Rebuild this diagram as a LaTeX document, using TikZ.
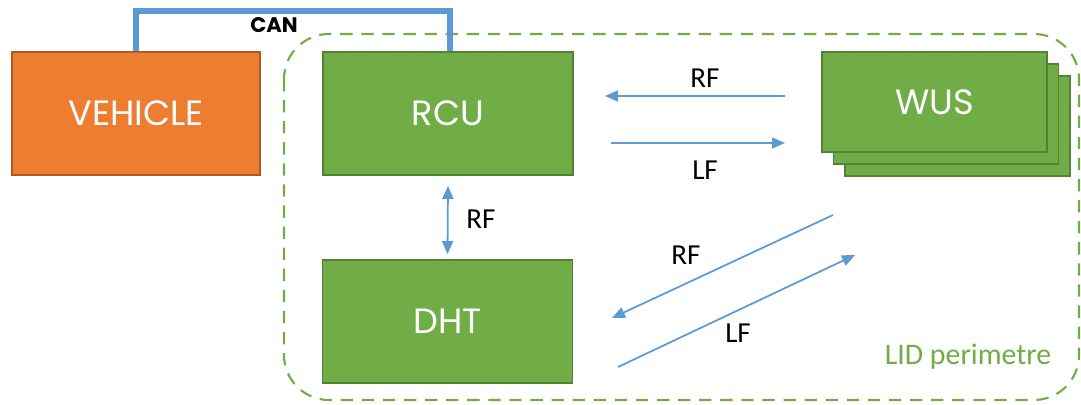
\documentclass[tikz,border=0pt]{standalone}
\usepackage{fontspec}
\setmainfont{Carlito}
\newfontfamily\boxfont{Poppins}
\usepackage{tikz}
\usetikzlibrary{arrows.meta}
\definecolor{boxgreen}{HTML}{70AD47}
\definecolor{greenedge}{HTML}{548235}
\definecolor{boxorange}{HTML}{ED7D31}
\definecolor{orangeedge}{HTML}{AE5A21}
\definecolor{linkblue}{HTML}{5B9BD5}

\begin{document}
\begin{tikzpicture}[x=0.02cm, y=-0.02cm,
    unit/.style={rectangle, draw=greenedge, fill=boxgreen, line width=1pt, text=white,
                 minimum width=5cm, minimum height=2.46cm, font=\boxfont\fontsize{20}{24}\selectfont},
    link/.style={draw=linkblue, line width=1pt, -{Triangle[length=0.26cm, width=0.22cm]}},
    lbl/.style={font=\fontsize{16.5}{19}\selectfont, text=black}]
     \useasboundingbox (0,0) rectangle (1081,405);

     \draw[boxgreen, dashed, line width=1.2pt, dash pattern=on 7pt off 5pt, rounded corners=0.9cm]
          (284,34) rectangle (1079,400);

     \node[unit, fill=boxorange, draw=orangeedge, minimum width=4.96cm] (vehicle) at (136,113.5) {VEHICLE};
     \node[unit] (rcu) at (448,113.5) {RCU};
     \node[unit] (dht) at (447.5,321.5) {DHT};
     \node[unit, minimum width=4.5cm, minimum height=2cm] (wus3) at (957.5,126) {};
     \node[unit, minimum width=4.5cm, minimum height=2cm] (wus2) at (946,114) {};
     \node[unit, minimum width=4.5cm, minimum height=2cm] (wus) at (934.5,102) {WUS};

     \draw[linkblue, line width=3pt] (vehicle.north) -- ++(0,-40) -| ([xshift=0.04cm]rcu.north);
     \node[font=\boxfont\bfseries\fontsize{12}{14}\selectfont] (can) at (274,25) {CAN};

     \coordinate (rfstart) at (785,96);
     \coordinate (rfend) at (605,96);
     \coordinate (lfstart) at (611,143);
     \coordinate (lfend) at (785,143);
     \draw[link] (rfstart) -- (rfend);
     \draw[link] (lfstart) -- (lfend);
     \node[lbl] (rftop) at (705,78) {RF};
     \node[lbl] (lftop) at (705,170) {LF};

     \draw[link, {Triangle[length=0.26cm, width=0.22cm]}-{Triangle[length=0.26cm, width=0.22cm]}]
          ([yshift=-0.2cm]rcu.south) -- ([yshift=0.1cm]dht.north);
     \node[lbl] (rfmid) at (481,219) {RF};

     \coordinate (rfdiagstart) at (833,215);
     \coordinate (rfdiagend) at (612,318);
     \coordinate (lfdiagstart) at (618,367);
     \coordinate (lfdiagend) at (855,255);
     \draw[link] (rfdiagstart) -- (rfdiagend);
     \draw[link] (lfdiagstart) -- (lfdiagend);
     \node[lbl] (rfdiag) at (686,255) {RF};
     \node[lbl] (lfdiag) at (738,333) {LF};

     \node[font=\fontsize{17}{20}\selectfont, text=boxgreen] (lid) at (968,357) {LID perimetre};
 \end{tikzpicture}
\end{document}
